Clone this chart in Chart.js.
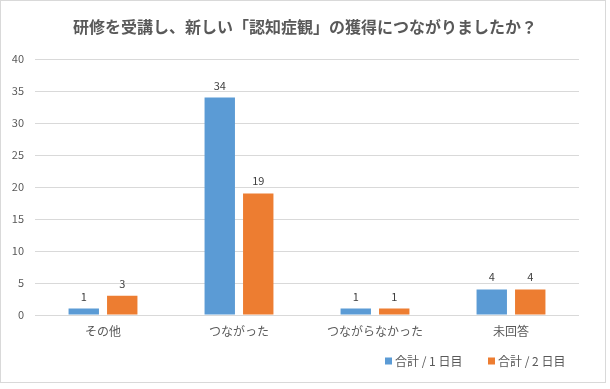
<!DOCTYPE html>
<html lang="ja">
<head>
<meta charset="utf-8">
<script src="https://cdn.jsdelivr.net/npm/chart.js@4/dist/chart.umd.min.js"></script>
<style>
    html, body { margin: 0; padding: 0; background: #ffffff; }
    canvas { display: block; }
</style>
</head>
<body>
<canvas id="chart" width="610" height="389"></canvas>
<script>
const chartTitle = '研修を受講し、新しい「認知症観」の獲得につながりましたか？';
const categories = ['その他', 'つながった', 'つながらなかった', '未回答'];
const seriesNames = ['合計 / 1 日目', '合計 / 2 日目'];
const day1Values = [1, 34, 1, 4];
const day2Values = [3, 19, 1, 4];
const yMax = 40;
const yStep = 5;

const FONT = '"Noto Sans CJK JP", "Noto Sans", sans-serif';
const BLUE = '#5B9BD5';
const ORANGE = '#ED7D31';
const TEXT_GRAY = '#595959';

document.addEventListener("DOMContentLoaded", () => {
    renderChart();
});

// white background + thin frame around the whole chart
const framePlugin = {
    id: 'frame',
    beforeDraw(chart) {
        const ctx = chart.ctx;
        ctx.save();
        ctx.fillStyle = '#ffffff';
        ctx.fillRect(0, 0, chart.width, chart.height);
        ctx.strokeStyle = '#d9d9d9';
        ctx.lineWidth = 1;
        ctx.strokeRect(0.5, 0.5, 605, 382);
        ctx.restore();
    }
};

// value labels above every bar
const valueLabelPlugin = {
    id: 'valueLabels',
    afterDatasetsDraw(chart) {
        const ctx = chart.ctx;
        ctx.save();
        ctx.font = `11px ${FONT}`;
        ctx.fillStyle = '#404040';
        ctx.textAlign = 'center';
        ctx.textBaseline = 'alphabetic';
        chart.data.datasets.forEach((ds, i) => {
            chart.getDatasetMeta(i).data.forEach((bar, j) => {
                ctx.fillText(String(ds.data[j]), bar.x, bar.y - 8);
            });
        });
        ctx.restore();
    }
};

// legend at the bottom right, drawn like the original
const legendPlugin = {
    id: 'bottomLegend',
    afterDraw(chart) {
        const ctx = chart.ctx;
        const starts = [385, 488];
        const y = 361;
        ctx.save();
        ctx.font = `12px ${FONT}`;
        ctx.textBaseline = 'middle';
        ctx.textAlign = 'left';
        chart.data.datasets.forEach((ds, i) => {
            ctx.fillStyle = ds.backgroundColor;
            ctx.fillRect(starts[i], y - 3.5, 7, 7);
            ctx.fillStyle = TEXT_GRAY;
            ctx.fillText(ds.label, starts[i] + 10, y);
        });
        ctx.restore();
    }
};

function renderChart() {
    const canvas = document.getElementById('chart');

    new Chart(canvas.getContext('2d'), {
        type: 'bar',
        data: {
            labels: categories,
            datasets: [
                {
                    label: seriesNames[0],
                    data: day1Values,
                    backgroundColor: BLUE,
                    categoryPercentage: 0.566,
                    barPercentage: 0.79
                },
                {
                    label: seriesNames[1],
                    data: day2Values,
                    backgroundColor: ORANGE,
                    categoryPercentage: 0.566,
                    barPercentage: 0.79
                }
            ]
        },
        options: {
            responsive: false,
            devicePixelRatio: 1,
            animation: false,
            layout: {
                padding: { left: 5, right: 5, top: 8, bottom: 50 }
            },
            plugins: {
                legend: { display: false },
                tooltip: { enabled: false },
                title: {
                    display: true,
                    text: chartTitle,
                    color: TEXT_GRAY,
                    font: { family: FONT, size: 16, weight: 'bold', lineHeight: 1.2 },
                    padding: { top: 9, bottom: 23 }
                }
            },
            scales: {
                x: {
                    grid: { display: false, drawTicks: false },
                    border: { display: false },
                    ticks: {
                        color: TEXT_GRAY,
                        font: { family: FONT, size: 12 },
                        padding: 9,
                        maxRotation: 0,
                        autoSkip: false
                    },
                    afterFit(scale) { scale.height = 24; }
                },
                y: {
                    min: 0,
                    max: yMax,
                    grid: { color: '#d9d9d9', lineWidth: 1, drawTicks: false },
                    border: { display: false },
                    ticks: {
                        stepSize: yStep,
                        color: TEXT_GRAY,
                        font: { family: FONT, size: 11 },
                        padding: 11
                    },
                    afterFit(scale) { scale.width = 30; }
                },
                yRight: {
                    position: 'right',
                    display: true,
                    grid: { display: false, drawTicks: false },
                    border: { display: false },
                    ticks: { display: false },
                    afterFit(scale) { scale.width = 26; }
                }
            }
        },
        plugins: [framePlugin, valueLabelPlugin, legendPlugin]
    });
}
</script>
</body>
</html>
